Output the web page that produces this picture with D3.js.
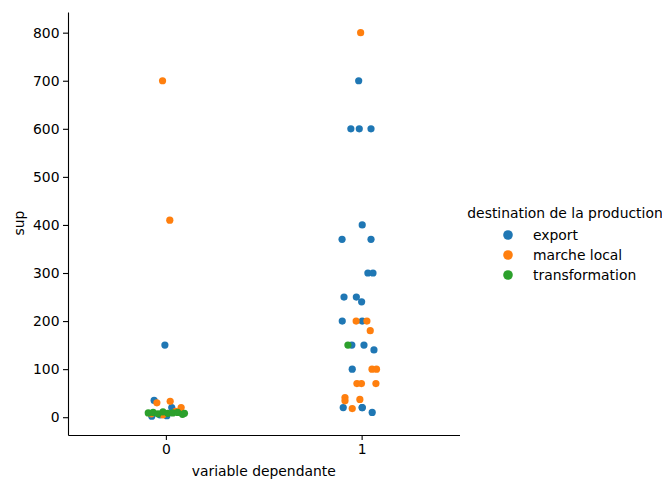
<!DOCTYPE html>
<html>
<head>
<meta charset="utf-8">
<script src="https://cdn.jsdelivr.net/npm/d3@7"></script>
<style>
  body { margin: 0; background: #fff; }
  text { font-family: "DejaVu Sans", sans-serif; }
</style>
</head>
<body>
<script>
// hue levels and colours (seaborn default palette)
var hues = ["export", "marche local", "transformation"];
var colors = ["#1f77b4", "#ff7f0e", "#2ca02c"];
var categories = [0, 1];
var yTicks = [0, 100, 200, 300, 400, 500, 600, 700, 800];

// points: category, sup value, jitter (category units)
var exportCat = [0, 0, 0, 0, 0, 0,
  1, 1, 1, 1, 1, 1, 1, 1, 1, 1, 1, 1, 1, 1, 1, 1, 1, 1, 1, 1, 1, 1];
var exportSup = [150, 35, 2, 5, 3, 20,
  700, 600, 600, 600, 400, 370, 370, 300, 300, 250, 250, 240, 200, 200, 150, 150, 140, 100, 20, 20, 10, 20];
var exportJit = [-0.005, -0.06, -0.072, -0.03, 0.005, 0.03,
  -0.015, -0.055, -0.012, 0.048, 0.003, -0.10, 0.048, 0.032, 0.058, -0.09, -0.027, 0.0, -0.099, 0.003, -0.05, 0.012, 0.063, -0.048, -0.094, 0.003, 0.054, 0.003];

var localCat = [0, 0, 0, 0, 0, 0, 0, 0,
  1, 1, 1, 1, 1, 1, 1, 1, 1, 1, 1, 1, 1];
var localSup = [700, 410, 30, 33, 20, 7, 12, 5,
  800, 200, 200, 180, 100, 100, 70, 70, 70, 41, 34, 37, 18];
var localJit = [-0.017, 0.02, -0.046, 0.022, 0.078, -0.075, 0.05, -0.015,
  -0.005, -0.028, 0.027, 0.044, 0.053, 0.076, -0.024, -0.001, 0.073, -0.085, -0.085, -0.009, -0.048];

var transCat = [0, 0, 0, 0, 0, 0, 0, 0, 0, 1];
var transSup = [9, 10, 7, 11, 8, 9, 10, 6, 8, 150];
var transJit = [-0.09, -0.065, -0.04, -0.015, 0.01, 0.035, 0.06, 0.085, 0.095, -0.07];

var series = [
  {cat: exportCat, sup: exportSup, jit: exportJit},
  {cat: localCat, sup: localSup, jit: localJit},
  {cat: transCat, sup: transSup, jit: transJit}
];

var W = 662, H = 480;
var fontSize = "13.9px";

var svg = d3.select("body").append("svg")
  .attr("width", W).attr("height", H);

var x = d3.scaleLinear().domain([-0.5, 1.5]).range([68, 459.5]);
var y = d3.scaleLinear().domain([-37, 843]).range([435, 12]);

// points
series.forEach(function(s, k) {
  var pts = s.sup.map(function(v, i) { return {c: s.cat[i], v: v, j: s.jit[i]}; });
  svg.append("g").selectAll("circle").data(pts).enter().append("circle")
    .attr("cx", function(d) { return x(d.c + d.j); })
    .attr("cy", function(d) { return y(d.v); })
    .attr("r", 3.6)
    .attr("fill", colors[k]);
});

// y axis
var gy = svg.append("g").attr("transform", "translate(68,0)")
  .call(d3.axisLeft(y).tickValues(yTicks).tickSize(5).tickSizeOuter(0).tickPadding(3.5));
// x axis
var gx = svg.append("g").attr("transform", "translate(0,435)")
  .call(d3.axisBottom(x).tickValues(categories).tickFormat(d3.format("d")).tickSize(5).tickSizeOuter(0).tickPadding(4));

[gy, gx].forEach(function(g) {
  g.attr("font-family", null).attr("font-size", null);
  g.selectAll("text").style("font-size", fontSize).attr("fill", "#000");
  g.selectAll("line").attr("stroke", "#000").attr("stroke-width", 1.1);
  g.select(".domain").attr("stroke", "#000").attr("stroke-width", 1.1);
});

// axis titles
svg.append("text").attr("x", (68 + 459.5) / 2).attr("y", 476)
  .attr("text-anchor", "middle").style("font-size", fontSize).text("variable dependante");
svg.append("text").attr("transform", "translate(24,223) rotate(-90)")
  .attr("text-anchor", "middle").style("font-size", fontSize).text("sup");

// legend
var lg = svg.append("g");
lg.append("text").attr("x", 565).attr("y", 218)
  .attr("text-anchor", "middle").style("font-size", fontSize).text("destination de la production");
hues.forEach(function(h, k) {
  var yy = 235 + k * 20;
  lg.append("circle").attr("cx", 508).attr("cy", yy).attr("r", 4.8).attr("fill", colors[k]);
  lg.append("text").attr("x", 533).attr("y", yy + 5)
    .style("font-size", fontSize).text(h);
});
</script>
</body>
</html>
